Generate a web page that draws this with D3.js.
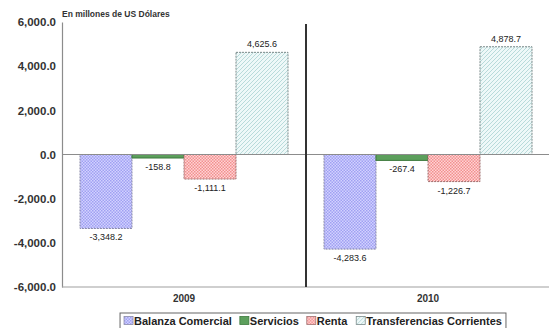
<!DOCTYPE html>
<html>
<head>
<meta charset="utf-8">
<script src="https://cdn.jsdelivr.net/npm/d3@7"></script>
<style>
  html, body { margin: 0; padding: 0; background: #fff; }
  svg { display: block; font-family: "Liberation Sans", Arial, sans-serif; }
</style>
</head>
<body>
<svg id="chart" width="549" height="328"></svg>
<script>
// Balanza de pagos: componentes de la cuenta corriente
const years = ["2009", "2010"];
const series = ["Balanza Comercial", "Servicios", "Renta", "Transferencias Corrientes"];
const values2009 = [-3348.2, -158.8, -1111.1, 4625.6];
const values2010 = [-4283.6, -267.4, -1226.7, 4878.7];
const yTicks = [-6000, -4000, -2000, 0, 2000, 4000, 6000];
const unitLabel = "En millones de US Dólares";

const valuesByYear = { "2009": values2009, "2010": values2010 };

const svg = d3.select("#chart");
const W = 549;
const plotLeft = 62, plotRight = 550, plotTop = 22, plotBottom = 287;

// Fill patterns for each series
const defs = svg.append("defs");
function dotPattern(id, bg, fg) {
  const p = defs.append("pattern").attr("id", id)
    .attr("width", 3).attr("height", 3).attr("patternUnits", "userSpaceOnUse");
  p.append("rect").attr("width", 3).attr("height", 3).attr("fill", bg);
  p.append("rect").attr("x", 0).attr("y", 0).attr("width", 1.5).attr("height", 1.5).attr("fill", fg);
  p.append("rect").attr("x", 1.5).attr("y", 1.5).attr("width", 1.5).attr("height", 1.5).attr("fill", fg);
}
dotPattern("pat-balanza", "#d2d2ff", "#a0a0f2");
dotPattern("pat-renta", "#ffd4d4", "#f29090");
(function () {
  const p = defs.append("pattern").attr("id", "pat-transf")
    .attr("width", 4).attr("height", 4).attr("patternUnits", "userSpaceOnUse");
  p.append("rect").attr("width", 4).attr("height", 4).attr("fill", "#eef8f8");
  p.append("path").attr("d", "M-1,1 L1,-1 M0,4 L4,0 M3,5 L5,3")
    .attr("stroke", "#b8dada").attr("stroke-width", 1);
})();

const fills = ["url(#pat-balanza)", "#5c9f5c", "url(#pat-renta)", "url(#pat-transf)"];
const strokes = ["#8a8aa8", "#3d7a3d", "#a07070", "#7a8a8a"];
const dashes = ["2,1", null, "2,1", "2,1"];

const y = d3.scaleLinear().domain([-6000, 6000]).range([plotBottom, plotTop]);
const x0 = d3.scaleBand().domain(years).range([plotLeft, plotRight]);
const x1 = d3.scaleBand().domain(series).range([0, x0.bandwidth()])
  .paddingInner(0).paddingOuter(0.346);

// Number format with a plain hyphen as the minus sign
const locale = d3.formatLocale({ decimal: ".", thousands: ",", grouping: [3], currency: ["$", ""], minus: "-" });
const fmt = locale.format(",.1f");

// Unit caption
svg.append("text").attr("x", plotLeft).attr("y", 17)
  .attr("font-size", 8.5).attr("font-weight", 600).attr("fill", "#333")
  .text(unitLabel);

// Y axis
const yAxis = d3.axisLeft(y).tickValues(yTicks).tickSize(0).tickPadding(6)
  .tickFormat(d => fmt(d));
const gy = svg.append("g").attr("transform", `translate(${plotLeft},0)`).call(yAxis);
gy.select(".domain").attr("stroke", "#8c8c8c").attr("stroke-width", 1.2);
gy.selectAll("text").attr("font-size", 11.5).attr("font-weight", "bold").attr("fill", "#333")
  .attr("font-family", "'Liberation Sans', Arial, sans-serif");

// Bottom frame line
svg.append("line").attr("x1", plotLeft).attr("x2", W).attr("y1", plotBottom).attr("y2", plotBottom)
  .attr("stroke", "#a0a0a0").attr("stroke-width", 1.2);

// Bars
const groups = svg.append("g").selectAll("g").data(years).join("g")
  .attr("transform", d => `translate(${x0(d)},0)`);

groups.selectAll("rect").data(yr => series.map((s, i) => ({ s, i, v: valuesByYear[yr][i] })))
  .join("rect")
  .attr("x", d => x1(d.s))
  .attr("width", x1.bandwidth())
  .attr("y", d => y(Math.max(0, d.v)))
  .attr("height", d => Math.abs(y(d.v) - y(0)))
  .attr("fill", d => fills[d.i])
  .attr("stroke", d => strokes[d.i])
  .attr("stroke-width", 1)
  .attr("stroke-dasharray", d => dashes[d.i]);

// Value labels
groups.selectAll("text.val").data(yr => series.map((s, i) => ({ s, i, v: valuesByYear[yr][i] })))
  .join("text").attr("class", "val")
  .attr("x", d => x1(d.s) + x1.bandwidth() / 2)
  .attr("y", d => d.v >= 0 ? y(d.v) - 5 : y(d.v) + 12)
  .attr("text-anchor", "middle")
  .attr("font-size", 9).attr("fill", "#222")
  .text(d => fmt(d.v));

// Zero line
svg.append("line").attr("x1", plotLeft).attr("x2", W).attr("y1", y(0)).attr("y2", y(0))
  .attr("stroke", "#8c8c8c").attr("stroke-width", 1.2);

// Year divider
svg.append("line").attr("x1", x0("2010")).attr("x2", x0("2010"))
  .attr("y1", plotTop + 2).attr("y2", plotBottom)
  .attr("stroke", "#333").attr("stroke-width", 2);

// Category labels
svg.append("g").selectAll("text").data(years).join("text")
  .attr("x", d => x0(d) + x0.bandwidth() / 2)
  .attr("y", 302)
  .attr("text-anchor", "middle")
  .attr("font-size", 10).attr("font-weight", "bold").attr("fill", "#333")
  .text(d => d);

// Legend
const legend = svg.append("g");
const items = legend.selectAll("g").data(series).join("g");
items.append("rect").attr("width", 9).attr("height", 8).attr("y", -0.5)
  .attr("fill", (d, i) => fills[i]).attr("stroke", (d, i) => strokes[i]).attr("stroke-width", 0.8);
items.append("text").attr("x", 10).attr("y", 7.5)
  .attr("font-size", 11).attr("font-weight", "bold").attr("fill", "#222")
  .text(d => d);
let cx = 0;
items.each(function () {
  const g = d3.select(this);
  g.attr("transform", `translate(${cx},0)`);
  cx += this.getBBox().width + 8;
});
const legW = cx - 8;
const legX = 313 - legW / 2;
legend.attr("transform", `translate(${legX},317)`);
legend.insert("rect", ":first-child")
  .attr("x", -4).attr("y", -4).attr("width", legW + 8).attr("height", 16)
  .attr("fill", "#fff").attr("stroke", "#666").attr("stroke-width", 1);
</script>
</body>
</html>
